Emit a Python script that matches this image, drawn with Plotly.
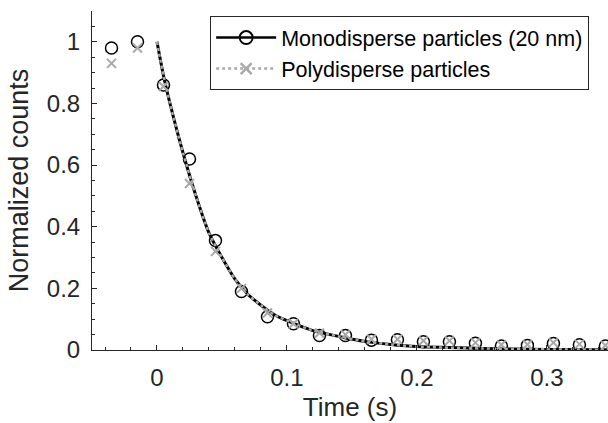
import plotly.graph_objects as go

# ---- data ----
t_points = [-0.035, -0.015, 0.005, 0.025, 0.045, 0.065, 0.085, 0.105, 0.125, 0.145,
            0.165, 0.185, 0.205, 0.225, 0.245, 0.265, 0.285, 0.305, 0.325, 0.345]
mono_counts = [0.98, 1.0, 0.86, 0.62, 0.355, 0.19, 0.108, 0.085, 0.047, 0.047,
               0.032, 0.033, 0.027, 0.027, 0.022, 0.013, 0.015, 0.021, 0.017, 0.013]
poly_counts = [0.93, 0.98, 0.855, 0.54, 0.32, 0.2, 0.12, 0.085, 0.055, 0.05,
               0.035, 0.035, 0.03, 0.03, 0.024, 0.017, 0.018, 0.024, 0.019, 0.015]

t_fit = [0, 0.005, 0.01, 0.02, 0.03, 0.04, 0.05, 0.06, 0.07, 0.08, 0.09, 0.1,
         0.12, 0.14, 0.16, 0.18, 0.2, 0.25, 0.3, 0.35]
mono_fit = [1.0, 0.89, 0.80, 0.64, 0.50, 0.38, 0.30, 0.23, 0.18, 0.145, 0.115, 0.095,
            0.063, 0.044, 0.028, 0.018, 0.011, 0.005, 0.002, 0.001]
poly_fit = [1.0, 0.89, 0.80, 0.64, 0.50, 0.38, 0.30, 0.23, 0.18, 0.145, 0.115, 0.095,
            0.063, 0.044, 0.028, 0.018, 0.011, 0.005, 0.002, 0.001]

x_ticks = [0, 0.1, 0.2, 0.3]
x_ticklabels = ["0", "0.1", "0.2", "0.3"]
y_ticks = [0, 0.2, 0.4, 0.6, 0.8, 1.0]
y_ticklabels = ["0", "0.2", "0.4", "0.6", "0.8", "1"]

names = ["Monodisperse particles (20 nm)", "Polydisperse particles"]

# ---- styles ----
FONT = "Liberation Sans, Arial, Helvetica, sans-serif"
AX = "#262626"
BLACK = "#000000"
GRAY = "#a9a9a9"

fig = go.Figure()

fig.add_trace(go.Scatter(x=t_points, y=mono_counts, mode="markers", showlegend=False,
                         marker=dict(symbol="circle-open", size=12, color=BLACK,
                                     line=dict(width=1.5, color=BLACK))))
fig.add_trace(go.Scatter(x=t_fit, y=mono_fit, mode="lines", showlegend=False,
                         line=dict(color=BLACK, width=3, shape="spline", smoothing=0.6)))
fig.add_trace(go.Scatter(x=t_points, y=poly_counts, mode="markers", showlegend=False,
                         marker=dict(symbol="x-thin-open", size=9, color=GRAY,
                                     line=dict(width=2, color=GRAY))))
fig.add_trace(go.Scatter(x=t_fit, y=poly_fit, mode="lines", showlegend=False,
                         line=dict(color=GRAY, width=2.5, dash="dot", shape="spline", smoothing=0.6)))

# legend entries
fig.add_trace(go.Scatter(x=[None], y=[None], mode="lines+markers", name=names[0],
                         line=dict(color=BLACK, width=2.5),
                         marker=dict(symbol="circle-open", size=13, color=BLACK,
                                     line=dict(width=2, color=BLACK))))
fig.add_trace(go.Scatter(x=[None], y=[None], mode="lines+markers", name=names[1],
                         line=dict(color=GRAY, width=2.5, dash="dot"),
                         marker=dict(symbol="x-thin-open", size=11, color=GRAY,
                                     line=dict(width=2.5, color=GRAY))))

fig.update_layout(
    width=608, height=423,
    margin=dict(l=92, r=0, t=11, b=73),
    paper_bgcolor="white", plot_bgcolor="white",
    font=dict(family=FONT, color=AX, size=24),
    legend=dict(x=0.229, y=0.985, xanchor="left", yanchor="top",
                bgcolor="white", bordercolor=AX, borderwidth=1,
                font=dict(size=21.5, color=BLACK), itemwidth=60,
                tracegroupgap=0),
    xaxis=dict(range=[-0.05, 0.347], tickvals=x_ticks, ticktext=x_ticklabels,
               ticks="inside", ticklen=5, tickcolor=AX, tickwidth=1,
               showline=True, linecolor=AX, linewidth=1, mirror=False,
               showgrid=False, zeroline=False, ticklabelstandoff=6,
               minor=dict(dtick=0.02, tick0=0, ticks="inside", ticklen=3, tickcolor=AX),
               title=dict(text="Time (s)", font=dict(size=26), standoff=8),
               automargin=False, tickfont=dict(size=24)),
    yaxis=dict(range=[0, 1.1], tickvals=y_ticks, ticktext=y_ticklabels,
               ticks="inside", ticklen=5, tickcolor=AX, tickwidth=1,
               showline=True, linecolor=AX, linewidth=1, mirror=False,
               showgrid=False, zeroline=False, ticklabelstandoff=6,
               minor=dict(dtick=0.05, tick0=0, ticks="inside", ticklen=3, tickcolor=AX),
               title=dict(text="Normalized counts", font=dict(size=27), standoff=10),
               automargin=False, tickfont=dict(size=24)),
)

fig.write_html("out.html")
